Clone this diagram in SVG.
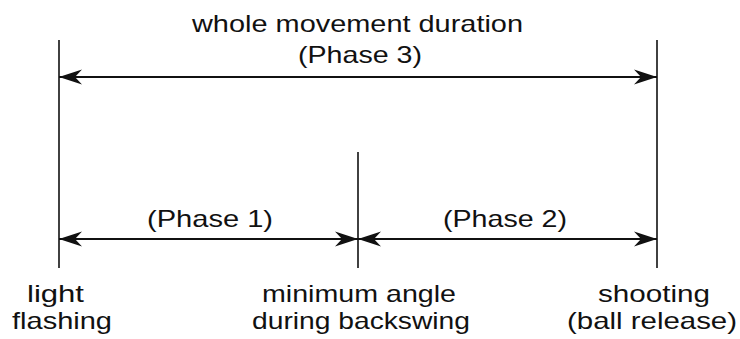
<svg xmlns="http://www.w3.org/2000/svg" width="740" height="339" viewBox="0 0 740 339">
<style>
text{font-family:"Liberation Sans",Arial,sans-serif;font-size:24px;fill:#111}
.tick{stroke:#111;stroke-width:1.6;fill:none}
.arr{stroke:#111;stroke-width:2;fill:none;marker-start:url(#ah);marker-end:url(#ah)}
</style>
<defs>
<marker id="ah" markerUnits="userSpaceOnUse" markerWidth="30" markerHeight="20" viewBox="-24 -10 26 20" refX="0" refY="0" orient="auto-start-reverse">
<path d="M0,0 L-23,-7.5 L-16,0 L-23,7.5 Z" fill="#111"/>
</marker>
</defs>
<rect width="740" height="339" fill="#fff"/>
<g id="light-flashing">
<line class="tick" x1="59" y1="40" x2="59" y2="268"/>
<text x="27" y="302" textLength="57" lengthAdjust="spacingAndGlyphs">light</text>
<text x="12" y="329" textLength="100" lengthAdjust="spacingAndGlyphs">flashing</text>
</g>
<g id="minimum-angle">
<line class="tick" x1="358" y1="152" x2="358" y2="268"/>
<text x="262" y="302" textLength="194" lengthAdjust="spacingAndGlyphs">minimum angle</text>
<text x="252" y="329" textLength="218" lengthAdjust="spacingAndGlyphs">during backswing</text>
</g>
<g id="shooting">
<line class="tick" x1="657" y1="40" x2="657" y2="268"/>
<text x="598" y="302" textLength="112" lengthAdjust="spacingAndGlyphs">shooting</text>
<text x="567" y="329" textLength="170" lengthAdjust="spacingAndGlyphs">(ball release)</text>
</g>
<g id="connectors">
<line class="arr" x1="59" y1="77" x2="657" y2="77"/>
<line class="arr" x1="59" y1="239" x2="358" y2="239"/>
<line class="arr" x1="358" y1="239" x2="657" y2="239"/>
</g>
<g id="labels">
<text x="192" y="32" textLength="331" lengthAdjust="spacingAndGlyphs">whole movement duration</text>
<text x="298" y="63" textLength="124" lengthAdjust="spacingAndGlyphs">(Phase 3)</text>
<text x="147" y="227" textLength="126" lengthAdjust="spacingAndGlyphs">(Phase 1)</text>
<text x="443" y="227" textLength="124" lengthAdjust="spacingAndGlyphs">(Phase 2)</text>
</g>
</svg>
